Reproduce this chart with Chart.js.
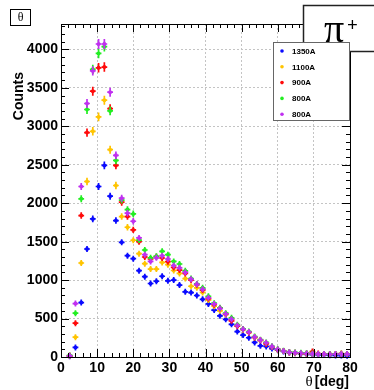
<!DOCTYPE html>
<html>
<head>
<meta charset="utf-8">
<title>theta distribution</title>
<script src="https://cdn.jsdelivr.net/npm/chart.js@4.4.1/dist/chart.umd.min.js"></script>
<style>
  html, body { margin: 0; padding: 0; background: #fff; }
  canvas { display: block; }
</style>
</head>
<body>
<canvas id="thetaChart" width="374" height="390"></canvas>
<script>
// bin centres (deg), bin width 1.6 deg
const thetaBins = [2.4, 4.0, 5.6, 7.2, 8.8, 10.4, 12.0, 13.6, 15.2, 16.8, 18.4, 20.0, 21.6, 23.2, 24.8, 26.4,
    28.0, 29.6, 31.2, 32.8, 34.4, 36.0, 37.6, 39.2, 40.8, 42.4, 44.0, 45.6, 47.2, 48.8, 50.4, 52.0, 53.6,
    55.2, 56.8, 58.4, 60.0, 61.6, 63.2, 64.8, 66.4, 68.0, 69.6, 71.2, 72.8, 74.4, 76.0, 77.6, 79.2];
const halfBin = 0.8;

const seriesLabels = ['1350A', '1100A', '900A', '800A', '800A'];
const seriesColors = ['#0a0aff', '#ffc400', '#ff0a0a', '#22ee22', '#c030f0'];

const counts1350 = [10, 125, 708, 1404, 1796, 2217, 2491, 2091, 1774, 1491, 1317, 1278, 1122, 1045, 956, 985,
    1050, 990, 1000, 935, 848, 838, 800, 750, 690, 610, 535, 490, 425, 330, 285, 250, 190,
    145, 138, 110, 90, 72, 56, 48, 38, 33, 30, 27, 25, 22, 20, 18, 16];
const counts1100 = [15, 258, 1222, 2282, 2935, 3122, 3339, 2696, 2230, 1826, 1687, 1518, 1343, 1213, 1143, 1143,
    1230, 1200, 1125, 1087, 1020, 920, 900, 840, 740, 660, 600, 550, 490, 405, 355, 320, 255,
    220, 180, 130, 95, 78, 60, 50, 45, 40, 38, 36, 35, 35, 38, 40, 35];
const counts900 = [15, 440, 1839, 2918, 3456, 3760, 3770, 3230, 2491, 2013, 1826, 1652, 1500, 1300, 1274, 1304,
    1287, 1240, 1165, 1130, 1087, 1000, 940, 870, 760, 680, 635, 560, 470, 400, 361, 320, 255,
    215, 170, 130, 95, 78, 62, 55, 50, 45, 70, 45, 40, 38, 40, 45, 40];
const counts800a = [20, 570, 2057, 3218, 3740, 3948, 4035, 3200, 2556, 2040, 1917, 1861, 1520, 1391, 1290, 1310,
    1374, 1330, 1243, 1209, 1120, 1020, 950, 900, 790, 700, 640, 570, 510, 420, 365, 330, 265,
    225, 190, 140, 100, 80, 65, 60, 55, 50, 45, 40, 40, 38, 40, 42, 40];
const counts800b = [15, 695, 2217, 3296, 3720, 4070, 4070, 3443, 2622, 2065, 1870, 1765, 1548, 1330, 1243, 1290,
    1317, 1274, 1190, 1160, 1100, 1010, 945, 880, 770, 690, 630, 560, 490, 410, 360, 325, 260,
    220, 185, 135, 98, 78, 62, 55, 50, 45, 42, 40, 38, 36, 38, 40, 38];

const xTickValues = [0, 10, 20, 30, 40, 50, 60, 70, 80];
const yTickValues = [0, 500, 1000, 1500, 2000, 2500, 3000, 3500, 4000];

const allCounts = [counts1350, counts1100, counts900, counts800a, counts800b];

function makeDatasets() {
    return allCounts.map(function(values, i) {
        return {
            label: seriesLabels[i],
            data: values.map(function(v, j) { return { x: thetaBins[j], y: v }; }),
            backgroundColor: seriesColors[i],
            borderColor: seriesColors[i],
            pointRadius: 2,
            pointBorderWidth: 0,
            showLine: false,
            order: allCounts.length - i
        };
    });
}

// ROOT-style error crosses, drawn right after each dataset
const errorBars = {
    id: 'errorBars',
    afterDatasetDraw(chart, args) {
        const ctx = chart.ctx;
        const xs = chart.scales.x, ys = chart.scales.y;
        const ds = chart.data.datasets[args.index];
        ctx.save();
        ctx.strokeStyle = ds.borderColor;
        ctx.lineWidth = 1.7;
        args.meta.data.forEach(function(el, j) {
            const p = ds.data[j];
            const err = Math.sqrt(p.y);
            let up = el.y - ys.getPixelForValue(p.y + err);
            up = Math.max(up, 3);
            const x1 = xs.getPixelForValue(p.x - halfBin);
            const x2 = xs.getPixelForValue(p.x + halfBin);
            ctx.beginPath();
            ctx.moveTo(x1, el.y); ctx.lineTo(x2, el.y);
            ctx.moveTo(el.x, el.y - up); ctx.lineTo(el.x, el.y + up);
            ctx.stroke();
        });
        ctx.restore();
    }
};

// frame, inner tick marks, titles, legend and label boxes
const decorations = {
    id: 'decorations',
    afterDraw(chart) {
        const ctx = chart.ctx;
        const a = chart.chartArea;
        const xs = chart.scales.x, ys = chart.scales.y;
        ctx.save();

        // frame
        ctx.strokeStyle = '#000';
        ctx.lineWidth = 1;
        ctx.strokeRect(a.left + 0.5, a.top + 0.5, a.right - a.left, a.bottom - a.top);

        // tick marks inside the frame
        ctx.beginPath();
        for (let v = 0; v <= 80; v += 2) {
            const px = Math.round(xs.getPixelForValue(v)) + 0.5;
            const len = v % 10 === 0 ? 8 : 4;
            ctx.moveTo(px, a.bottom); ctx.lineTo(px, a.bottom - len);
            ctx.moveTo(px, a.top); ctx.lineTo(px, a.top + len);
        }
        for (let v = 0; v <= 4300; v += 100) {
            const py = Math.round(ys.getPixelForValue(v)) + 0.5;
            const len = v % 500 === 0 ? 8 : 4;
            ctx.moveTo(a.left, py); ctx.lineTo(a.left + len, py);
            ctx.moveTo(a.right, py); ctx.lineTo(a.right - len, py);
        }
        ctx.stroke();

        // axis titles
        ctx.fillStyle = '#000';
        ctx.textBaseline = 'alphabetic';
        ctx.textAlign = 'right';
        ctx.font = 'bold 14px "Liberation Sans", Arial, sans-serif';
        ctx.fillText('[deg]', a.right - 1, 386);
        const degW = ctx.measureText('[deg]').width;
        ctx.font = '15px "Liberation Serif", "DejaVu Serif", serif';
        ctx.fillText('θ', a.right - 3 - degW, 386);

        ctx.save();
        ctx.translate(23, 72);
        ctx.rotate(-Math.PI / 2);
        ctx.textAlign = 'right';
        ctx.font = 'bold 14px "Liberation Sans", Arial, sans-serif';
        ctx.fillText('Counts', 0, 0);
        ctx.restore();

        // theta label box
        ctx.fillStyle = '#fff';
        ctx.fillRect(10, 9, 20, 16);
        ctx.strokeRect(10.5, 9.5, 20, 16);
        ctx.fillStyle = '#000';
        ctx.textAlign = 'center';
        ctx.textBaseline = 'middle';
        ctx.font = '12px "Liberation Serif", "DejaVu Serif", serif';
        ctx.fillText('θ', 20.5, 17.5);

        // pi+ box
        ctx.fillStyle = '#fff';
        ctx.fillRect(303, 5, 80, 47);
        ctx.lineWidth = 1.5;
        ctx.strokeStyle = '#222';
        ctx.strokeRect(303.5, 5.5, 80, 46);
        ctx.fillStyle = '#000';
        ctx.textAlign = 'left';
        ctx.textBaseline = 'alphabetic';
        ctx.font = '40px "Liberation Serif", "DejaVu Serif", serif';
        ctx.fillText('π', 324, 42);
        ctx.font = 'bold 19px "Liberation Serif", "DejaVu Serif", serif';
        ctx.fillText('+', 347, 31);

        // legend
        ctx.fillStyle = '#fff';
        ctx.fillRect(273, 42, 76, 78);
        ctx.lineWidth = 1;
        ctx.strokeStyle = '#666';
        ctx.strokeRect(273.5, 42.5, 76, 78);
        ctx.font = 'bold 8px "Liberation Sans", Arial, sans-serif';
        ctx.textBaseline = 'middle';
        chart.data.datasets.forEach(function(ds, i) {
            const ry = 51 + i * 15.8;
            ctx.fillStyle = ds.backgroundColor;
            ctx.beginPath();
            ctx.arc(282, ry, 1.8, 0, Math.PI * 2);
            ctx.fill();
            ctx.fillStyle = '#000';
            ctx.fillText(ds.label, 292, ry + 0.5);
        });

        ctx.restore();
    }
};

function plainNumber(value) {
    return String(value);
}

function initializeChart() {
    const ctx = document.getElementById('thetaChart');
    const tickFont = { family: '"Liberation Sans", Arial, sans-serif', size: 14, weight: 'bold' };

    new Chart(ctx, {
        type: 'scatter',
        data: { datasets: makeDatasets() },
        options: {
            responsive: false,
            animation: false,
            layout: { padding: { top: 24, right: 24, left: 0, bottom: 0 } },
            plugins: {
                legend: { display: false },
                tooltip: { enabled: false }
            },
            scales: {
                x: {
                    type: 'linear',
                    min: 0,
                    max: 80,
                    afterBuildTicks: function(scale) {
                        scale.ticks = xTickValues.map(function(v) { return { value: v }; });
                    },
                    afterFit: function(scale) { scale.height = 33; },
                    ticks: { color: '#000', font: tickFont, padding: 3, maxRotation: 0, callback: plainNumber },
                    grid: { color: '#c4c4c4', lineWidth: 1, drawTicks: false },
                    border: { display: false, dash: [2, 2] }
                },
                y: {
                    type: 'linear',
                    min: 0,
                    max: 4330,
                    afterBuildTicks: function(scale) {
                        scale.ticks = yTickValues.map(function(v) { return { value: v }; });
                    },
                    afterFit: function(scale) { scale.width = 61; },
                    ticks: { color: '#000', font: tickFont, padding: 3, callback: plainNumber },
                    grid: { color: '#c4c4c4', lineWidth: 1, drawTicks: false },
                    border: { display: false, dash: [2, 2] }
                }
            }
        },
        plugins: [errorBars, decorations]
    });
}

document.addEventListener('DOMContentLoaded', initializeChart);
</script>
</body>
</html>
